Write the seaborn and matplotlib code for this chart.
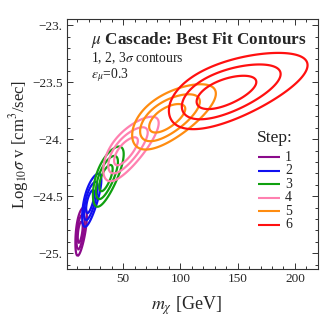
import numpy as np
import matplotlib
matplotlib.use("Agg")
import matplotlib.pyplot as plt
import seaborn as sns
from matplotlib.ticker import FixedLocator, FixedFormatter, MultipleLocator

# ---- data ----
steps = ["1", "2", "3", "4", "5", "6"]
colors = ["#8B0A8B", "#1010F0", "#0FA00F", "#FF80B0", "#FF8C10", "#FF1010"]
# best-fit mass (GeV) and log10 sigma v of each fit
center_m = [12.4, 21.05, 34.6, 51.5, 87.1, 137.8]
center_y = [-24.817, -24.55, -24.344, -24.11, -23.819, -23.592]
# spread in log10(m), slope of the degeneracy line (per GeV), spread across it
sigma_logm = [0.0495, 0.0489, 0.0478, 0.0573, 0.0515, 0.0538]
slope = [0.023, 0.0192, 0.0134, 0.0085, 0.0050, 0.0033]
sigma_cross = [0.052, 0.049, 0.056, 0.056, 0.064, 0.078]
dchi2_levels = [2.30, 6.18, 11.83]  # 1, 2, 3 sigma (2 dof)

ytick_vals = [-25.0, -24.5, -24.0, -23.5, -23.0]
ytick_labels = ["\u221225.", "\u221224.5", "\u221224.", "\u221223.5", "\u221223."]
xtick_vals = [50, 100, 150, 200]
xtick_labels = ["50", "100", "150", "200"]

sns.set_style("ticks")
plt.rcParams["font.family"] = ["Liberation Serif", "DejaVu Serif"]
plt.rcParams["mathtext.fontset"] = "stix"

fig = plt.figure(figsize=(3.25, 3.17), dpi=100)
ax = fig.add_axes([0.206, 0.151, 0.772, 0.789])

xlim = (1.0, 220.0)
ylim = (-25.14, -22.945)
xg = np.linspace(2.0, 220.0, 700)
yg = np.linspace(ylim[0], ylim[1], 700)
X, Y = np.meshgrid(xg, yg)

for i, s in enumerate(steps):
    du = np.log10(X / center_m[i]) / sigma_logm[i]
    y_line = center_y[i] + slope[i] * (X - center_m[i])
    dv = (Y - y_line) / sigma_cross[i]
    Q = du**2 + dv**2
    ax.contour(X, Y, Q, levels=dchi2_levels, colors=colors[i], linewidths=1.6)

ax.set_xlim(*xlim)
ax.set_ylim(*ylim)
ax.yaxis.set_major_locator(FixedLocator(ytick_vals))
ax.yaxis.set_major_formatter(FixedFormatter(ytick_labels))
ax.xaxis.set_major_locator(FixedLocator(xtick_vals))
ax.xaxis.set_major_formatter(FixedFormatter(xtick_labels))
ax.xaxis.set_minor_locator(MultipleLocator(10))
ax.yaxis.set_minor_locator(MultipleLocator(0.1))
ax.tick_params(which="both", direction="in", top=True, right=True, labelsize=9.5,
               color="#333333", width=0.7)
ax.tick_params(which="major", length=4.5, pad=3)
ax.tick_params(which="minor", length=2.5)
for sp in ax.spines.values():
    sp.set_linewidth(0.8)
    sp.set_color("#333333")

ax.set_xlabel(r"$m_\chi$ [GeV]", fontsize=13)
ax.xaxis.set_label_coords(0.475, -0.1)
ax.set_ylabel(r"Log$_{10}\sigma$ v [cm$^3$/sec]", fontsize=12, labelpad=1)

ax.text(0.095, 0.915, r"$\mu$ Cascade: Best Fit Contours", transform=ax.transAxes,
        fontsize=12.3, fontweight="bold", va="center", ha="left")
ax.text(0.095, 0.844, r"1, 2, 3$\sigma$ contours", transform=ax.transAxes,
        fontsize=9.8, va="center", ha="left", color="#222222")
ax.text(0.095, 0.776, r"$\epsilon_\mu$=0.3", transform=ax.transAxes,
        fontsize=9.8, va="center", ha="left", color="#222222")

# legend drawn in axes coordinates
ax.text(0.829, 0.524, "Step:", transform=ax.transAxes, fontsize=12.5,
        ha="center", va="center", color="#222222")
for i, s in enumerate(steps):
    yy = 0.448 - i * 0.054
    ax.plot([0.761, 0.849], [yy, yy], transform=ax.transAxes, color=colors[i],
            lw=1.5, solid_capstyle="butt")
    ax.text(0.87, yy, s, transform=ax.transAxes, fontsize=10, ha="left",
            va="center", color="#222222")

fig.savefig("out.png", dpi=100)
